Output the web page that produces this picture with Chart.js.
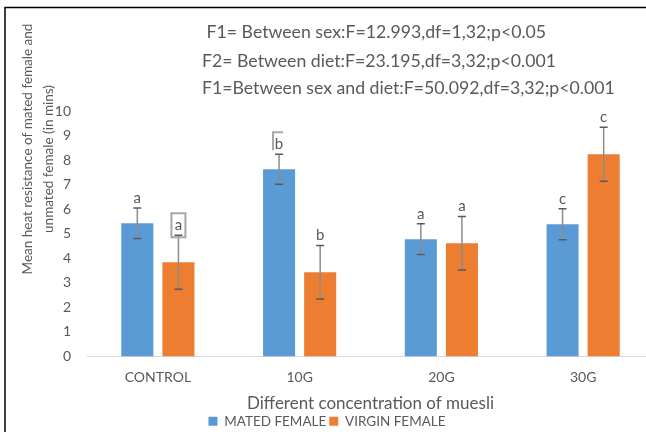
<!DOCTYPE html>
<html>
<head>
<meta charset="utf-8">
<script src="https://cdn.jsdelivr.net/npm/chart.js@4.4.1/dist/chart.umd.min.js"></script>
<style>
  html, body { margin: 0; padding: 0; background: #fff; overflow: hidden; }
  #wrap { position: relative; width: 646px; height: 432px; overflow: hidden; }
  canvas { display: block; }
</style>
</head>
<body>
<div id="wrap"><canvas id="c" width="654" height="432"></canvas></div>
<script>
const categories = ['CONTROL', '10G', '20G', '30G'];
const matedValues = [5.43, 7.63, 4.78, 5.39];
const virginValues = [3.84, 3.43, 4.61, 8.24];
const matedErrors = [0.62, 0.61, 0.63, 0.63];
const virginErrors = [1.10, 1.09, 1.09, 1.10];
const matedLetters = ['a', 'b', 'a', 'c'];
const virginLetters = ['a', 'b', 'a', 'c'];
const yTicks = [0, 1, 2, 3, 4, 5, 6, 7, 8, 9, 10];
const statLines = [
  ' F1= Between sex:F=12.993,df=1,32;p<0.05',
  'F2= Between diet:F=23.195,df=3,32;p<0.001',
  'F1=Between sex and diet:F=50.092,df=3,32;p<0.001'
];
const yTitleLines = ['Mean heat resistance of mated female and', 'unmated female (in mins)'];
const xTitle = 'Different concentration of muesli';
// which letter labels carry the grey selection frame in the original
const matedLetterFrame = ['', 'half', '', ''];
const virginLetterFrame = ['full', '', '', ''];

const TXT = '#595959';
const FONT = 'Lato, "Open Sans", sans-serif';

const errorsByDataset = [matedErrors, virginErrors];
const lettersByDataset = [matedLetters, virginLetters];
const framesByDataset = [matedLetterFrame, virginLetterFrame];

const errorBarPlugin = {
  id: 'errorBars',
  afterDatasetsDraw(chart) {
    const ctx = chart.ctx;
    const y = chart.scales.y;
    chart.data.datasets.forEach((ds, di) => {
      const meta = chart.getDatasetMeta(di);
      meta.data.forEach((bar, i) => {
        const v = ds.data[i];
        const e = errorsByDataset[di][i];
        const x = bar.x;
        const yTop = y.getPixelForValue(v + e);
        const yBot = y.getPixelForValue(v - e);
        ctx.save();
        ctx.strokeStyle = '#8c8c8c';
        ctx.lineWidth = 1.5;
        ctx.beginPath();
        ctx.moveTo(x, yTop); ctx.lineTo(x, yBot);
        ctx.stroke();
        ctx.strokeStyle = '#595959';
        ctx.beginPath();
        ctx.moveTo(x - 4, yTop); ctx.lineTo(x + 4, yTop);
        ctx.moveTo(x - 4, yBot); ctx.lineTo(x + 4, yBot);
        ctx.stroke();
        const letter = lettersByDataset[di][i];
        const ly = yTop - 10;
        const frame = framesByDataset[di][i];
        if (frame) {
          ctx.strokeStyle = '#a6a6a6';
          ctx.lineWidth = 2;
          ctx.beginPath();
          if (frame === 'full') {
            ctx.rect(x - 7, ly - 12, 14, 24);
          } else {
            ctx.moveTo(x - 6, ly + 6); ctx.lineTo(x - 6, ly - 12); ctx.lineTo(x + 4, ly - 12);
          }
          ctx.stroke();
        }
        ctx.fillStyle = TXT;
        ctx.font = '15px ' + FONT;
        ctx.textAlign = 'center';
        ctx.textBaseline = 'middle';
        ctx.fillText(letter, x, ly);
        ctx.restore();
      });
    });
  }
};

const textPlugin = {
  id: 'extraText',
  afterDraw(chart) {
    const ctx = chart.ctx;
    ctx.save();
    ctx.fillStyle = TXT;
    ctx.font = '17.7px ' + FONT;
    ctx.textAlign = 'left';
    ctx.textBaseline = 'middle';
    const ys = [32, 61, 88];
    statLines.forEach((t, i) => ctx.fillText(t, 202, ys[i]));
    // y-axis title (two lines)
    ctx.font = '13.5px ' + FONT;
    ctx.textAlign = 'center';
    ctx.save();
    ctx.translate(28, 149);
    ctx.rotate(-Math.PI / 2);
    ctx.fillText(yTitleLines[0], 0, 0);
    ctx.restore();
    ctx.save();
    ctx.translate(49, 159);
    ctx.rotate(-Math.PI / 2);
    ctx.fillText(yTitleLines[1], 0, 0);
    ctx.restore();
    // frame lines of the original figure
    ctx.strokeStyle = '#000';
    ctx.lineWidth = 1.5;
    ctx.beginPath();
    ctx.moveTo(5, 432); ctx.lineTo(5, 7.5); ctx.lineTo(chart.width, 7.5);
    ctx.stroke();
    ctx.restore();
  }
};

new Chart(document.getElementById('c'), {
  type: 'bar',
  data: {
    labels: categories,
    datasets: [
      { label: 'MATED FEMALE', data: matedValues, backgroundColor: '#5B9BD5' },
      { label: 'VIRGIN FEMALE', data: virginValues, backgroundColor: '#ED7D31' }
    ]
  },
  options: {
    responsive: false,
    animation: false,
    layout: { padding: { top: 111, left: 0, right: 0, bottom: -6 } },
    datasets: { bar: { categoryPercentage: 0.58, barPercentage: 0.78 } },
    plugins: {
      legend: {
        position: 'bottom',
        labels: {
          color: TXT, font: { family: FONT, size: 13.5 },
          boxWidth: 9, boxHeight: 9, padding: 3
        }
      },
      tooltip: { enabled: false }
    },
    scales: {
      x: {
        afterFit: (s) => { s.height = 55; },
        grid: { display: false },
        border: { display: true, color: '#d9d9d9', width: 1 },
        ticks: { color: TXT, font: { family: FONT, size: 14 }, padding: 5 },
        title: { display: true, text: xTitle, color: TXT, font: { family: FONT, size: 17, lineHeight: 0.85 }, padding: { top: 0, bottom: 1 } }
      },
      y: {
        min: 0, max: 10,
        afterBuildTicks: (s) => { s.ticks = yTicks.map(v => ({ value: v })); },
        afterFit: (s) => { s.width = 87; },
        grid: { display: false },
        border: { display: false },
        ticks: { color: TXT, font: { family: FONT, size: 14 }, padding: 8 }
      }
    }
  },
  plugins: [errorBarPlugin, textPlugin]
});
</script>
</body>
</html>
